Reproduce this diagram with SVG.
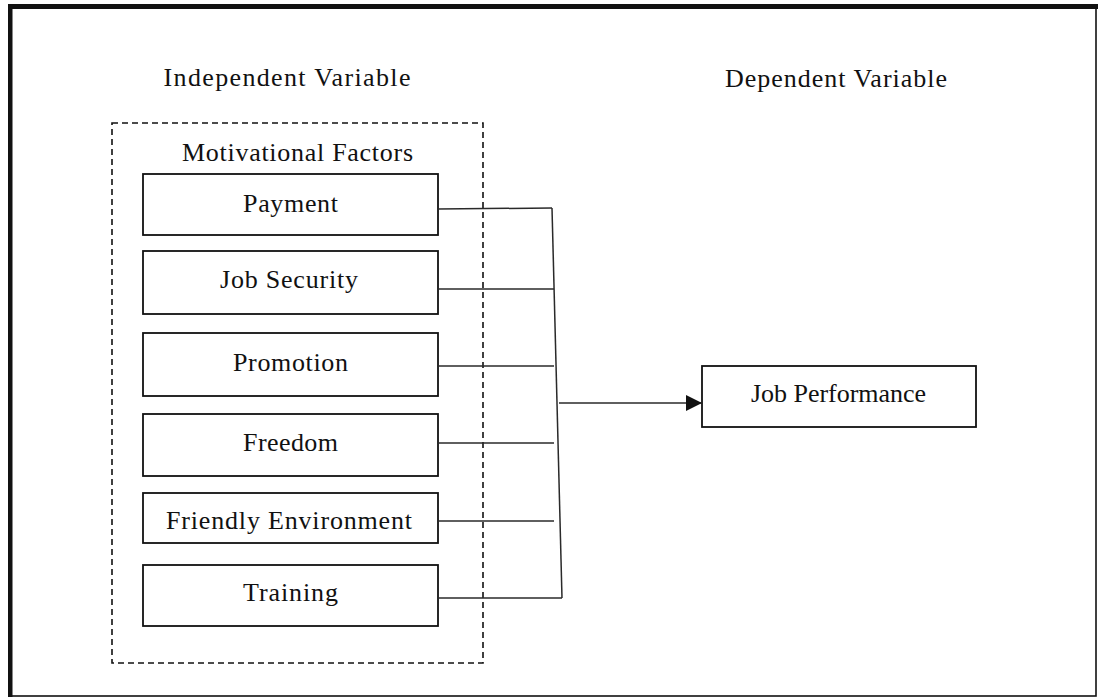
<svg xmlns="http://www.w3.org/2000/svg" width="1098" height="697" viewBox="0 0 1098 697">
  <style>
    .lbl { font-family: "Liberation Serif", "Times New Roman", serif; font-size: 26px; fill: #111; text-anchor: middle; }
    .box { fill: #fff; stroke: #111; stroke-width: 1.8; }
    .conn { fill: none; stroke: #2a2a2a; stroke-width: 1.5; }
  </style>
  <defs>
    <marker id="arrow" viewBox="0 0 16 16" refX="15" refY="8" markerWidth="16" markerHeight="16" markerUnits="userSpaceOnUse" orient="auto">
      <path d="M0,0 L16,8 L0,16 Z" fill="#111"/>
    </marker>
  </defs>

  <!-- page frame: heavy top/left edge, thin right/bottom edge -->
  <rect x="0" y="0" width="1098" height="697" fill="#fff"/>
  <g id="frame">
    <rect x="10" y="6.5" width="1086" height="689.5" fill="none" stroke="#111" stroke-width="1.6"/>
    <rect x="8" y="4" width="4.5" height="693" fill="#111"/>
    <rect x="8" y="4" width="1090" height="5" fill="#111"/>
  </g>

  <!-- column headings -->
  <text id="title-independent" class="lbl" x="287" y="86" textLength="247">Independent  Variable</text>
  <text id="title-dependent" class="lbl" x="836" y="87" textLength="222">Dependent Variable</text>

  <!-- grouping box for the factors -->
  <g id="motivational-factors">
    <rect x="112" y="123" width="371" height="540" fill="none" stroke="#111" stroke-width="1.6" stroke-dasharray="6 4"/>
    <text class="lbl" x="297.5" y="161" textLength="231">Motivational Factors</text>
  </g>

  <g id="payment">
    <rect class="box" x="143" y="174" width="295" height="61"/>
    <text class="lbl" x="290.5" y="212" textLength="95">Payment</text>
  </g>
  <g id="job-security">
    <rect class="box" x="143" y="251" width="295" height="63"/>
    <text class="lbl" x="289" y="288" textLength="138">Job Security</text>
  </g>
  <g id="promotion">
    <rect class="box" x="143" y="333" width="295" height="63"/>
    <text class="lbl" x="290.5" y="371" textLength="115">Promotion</text>
  </g>
  <g id="freedom">
    <rect class="box" x="143" y="414" width="295" height="62"/>
    <text class="lbl" x="290.5" y="451" textLength="95">Freedom</text>
  </g>
  <g id="friendly-environment">
    <rect class="box" x="143" y="493" width="295" height="50"/>
    <text class="lbl" x="289" y="529" textLength="246">Friendly Environment</text>
  </g>
  <g id="training">
    <rect class="box" x="143" y="565" width="295" height="61"/>
    <text class="lbl" x="290.5" y="601" textLength="95">Training</text>
  </g>

  <g id="job-performance">
    <rect class="box" x="702" y="366" width="274" height="61"/>
    <text class="lbl" x="838.5" y="402" textLength="175">Job Performance</text>
  </g>

  <!-- connectors: each factor feeds a shared bus that points to the outcome -->
  <g id="connectors">
    <path class="conn" d="M438,209 L552,208"/>
    <path class="conn" d="M438,289 L554,289"/>
    <path class="conn" d="M438,366 L554,366"/>
    <path class="conn" d="M438,443 L554,443"/>
    <path class="conn" d="M438,521 L554,521"/>
    <path class="conn" d="M438,598 L562,598"/>
    <path class="conn" d="M552,208 L562,598"/>
    <path class="conn" d="M559,403 L701,403" marker-end="url(#arrow)"/>
  </g>
</svg>
